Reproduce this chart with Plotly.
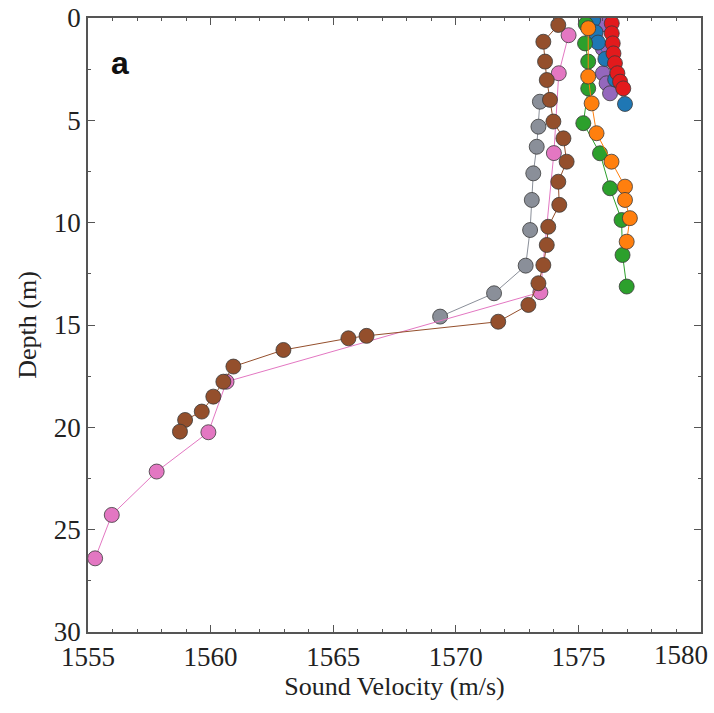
import plotly.graph_objects as go

# ---- data ----
blue_v = [1575.6, 1575.7, 1575.8, 1576.1, 1576.5, 1576.9]
blue_d = [0.1, 0.7, 1.2, 2.0, 3.0, 4.2]

orange_v = [1575.4, 1575.4, 1575.54, 1575.74, 1576.35, 1576.9, 1576.9, 1577.1, 1576.97]
orange_d = [0.5, 2.86, 4.17, 5.63, 7.02, 8.24, 8.89, 9.78, 10.93]

green_v = [1575.3, 1575.27, 1575.4, 1575.4, 1575.2, 1575.88, 1576.29, 1576.76, 1576.8, 1576.97]
green_d = [0.3, 1.24, 2.13, 3.44, 5.14, 6.61, 8.32, 9.87, 11.58, 13.12]

red_v = [1576.36, 1576.36, 1576.4, 1576.43, 1576.49, 1576.59, 1576.7, 1576.83]
red_d = [0.26, 0.75, 1.24, 1.73, 2.21, 2.7, 3.11, 3.44]

purple_v = [1576.0, 1576.0, 1576.0, 1576.15, 1576.29]
purple_d = [0.3, 1.5, 2.7, 3.19, 3.68]

brown_v = [1574.18, 1573.57, 1573.64, 1573.71, 1573.84, 1573.98, 1574.39, 1574.52,
           1574.18, 1574.22, 1573.77, 1573.71, 1573.57, 1573.37, 1572.96, 1571.73,
           1566.36, 1565.62, 1562.97, 1560.93, 1560.52, 1560.11, 1559.64, 1558.96, 1558.75]
brown_d = [0.34, 1.16, 2.13, 3.03, 4.0, 5.06, 5.88, 7.02, 8.0, 9.13, 10.2, 11.09,
           12.07, 12.96, 14.02, 14.84, 15.53, 15.65, 16.22, 17.03, 17.77, 18.5,
           19.23, 19.64, 20.21]

pink_v = [1574.6, 1574.2, 1574.0, 1573.45, 1560.65, 1559.91, 1557.8, 1555.97, 1555.29]
pink_d = [0.84, 2.7, 6.6, 13.4, 17.77, 20.24, 22.16, 24.28, 26.4]

gray_v = [1573.43, 1573.37, 1573.3, 1573.16, 1573.1, 1573.03, 1572.85, 1571.56, 1569.36]
gray_d = [4.09, 5.31, 6.29, 7.59, 8.89, 10.36, 12.1, 13.45, 14.59]

series = [
    ("gray", gray_v, gray_d, "#8a8f99"),
    ("pink", pink_v, pink_d, "#e377c2"),
    ("purple", purple_v, purple_d, "#9467bd"),
    ("blue", blue_v, blue_d, "#1f77b4"),
    ("green", green_v, green_d, "#2ca02c"),
    ("orange", orange_v, orange_d, "#ff7f0e"),
    ("red", red_v, red_d, "#e31a1c"),
    ("brown", brown_v, brown_d, "#944f2c"),
]

x_ticks = [1555, 1560, 1565, 1570, 1575, 1580]
x_labels = ["1555", "1560", "1565", "1570", "1575", ""]
last_x_label = "1580"
y_ticks = [0, 5, 10, 15, 20, 25, 30]

TICKFONT = dict(family="Liberation Serif", size=27, color="#222222")

fig = go.Figure()
for name, v, d, c in series:
    fig.add_trace(go.Scatter(
        x=v, y=d, mode="lines+markers", name=name,
        line=dict(color=c, width=1),
        marker=dict(size=15, color=c, line=dict(color="#3a3a3a", width=0.8)),
        showlegend=False,
    ))

axis_common = dict(
    showgrid=False, zeroline=False, showline=True, linecolor="#555555", linewidth=1.5,
    mirror="allticks", ticks="inside", ticklen=7, tickwidth=1, tickcolor="#555555",
    tickfont=TICKFONT, automargin=False,
)

fig.update_xaxes(
    range=[1555, 1580], tickvals=x_ticks, ticktext=x_labels,
    minor=dict(dtick=1, ticks="inside", ticklen=3, tickcolor="#555555"),
    title=dict(text="Sound Velocity (m/s)", font=dict(family="Liberation Serif", size=26, color="#222222"), standoff=6),
    **axis_common,
)
fig.update_yaxes(
    range=[30, 0], tickvals=y_ticks, ticktext=[str(t) for t in y_ticks],
    minor=dict(dtick=2.5, tick0=0, ticks="inside", ticklen=3, tickcolor="#555555"),
    title=dict(text="Depth (m)", font=dict(family="Liberation Serif", size=26, color="#222222"), standoff=10),
    **axis_common,
)

# last x tick label, kept inside the page like in the reference
fig.add_annotation(
    x=1580, xref="x", y=0, yref="paper", yanchor="top", xanchor="right",
    xshift=9, yshift=-6, text=last_x_label, showarrow=False, font=TICKFONT,
)

fig.add_annotation(
    x=0.052, y=0.927, xref="paper", yref="paper", xanchor="center", yanchor="middle",
    text="<b>a</b>", showarrow=False,
    font=dict(family="Liberation Sans", size=32, color="#111111"),
)

fig.update_layout(
    width=714, height=713,
    margin=dict(l=88, r=13, t=18, b=81),
    paper_bgcolor="white", plot_bgcolor="white",
)

fig.write_html("out.html", config={"displayModeBar": False},
               post_script="document.body.style.margin='0px';")
